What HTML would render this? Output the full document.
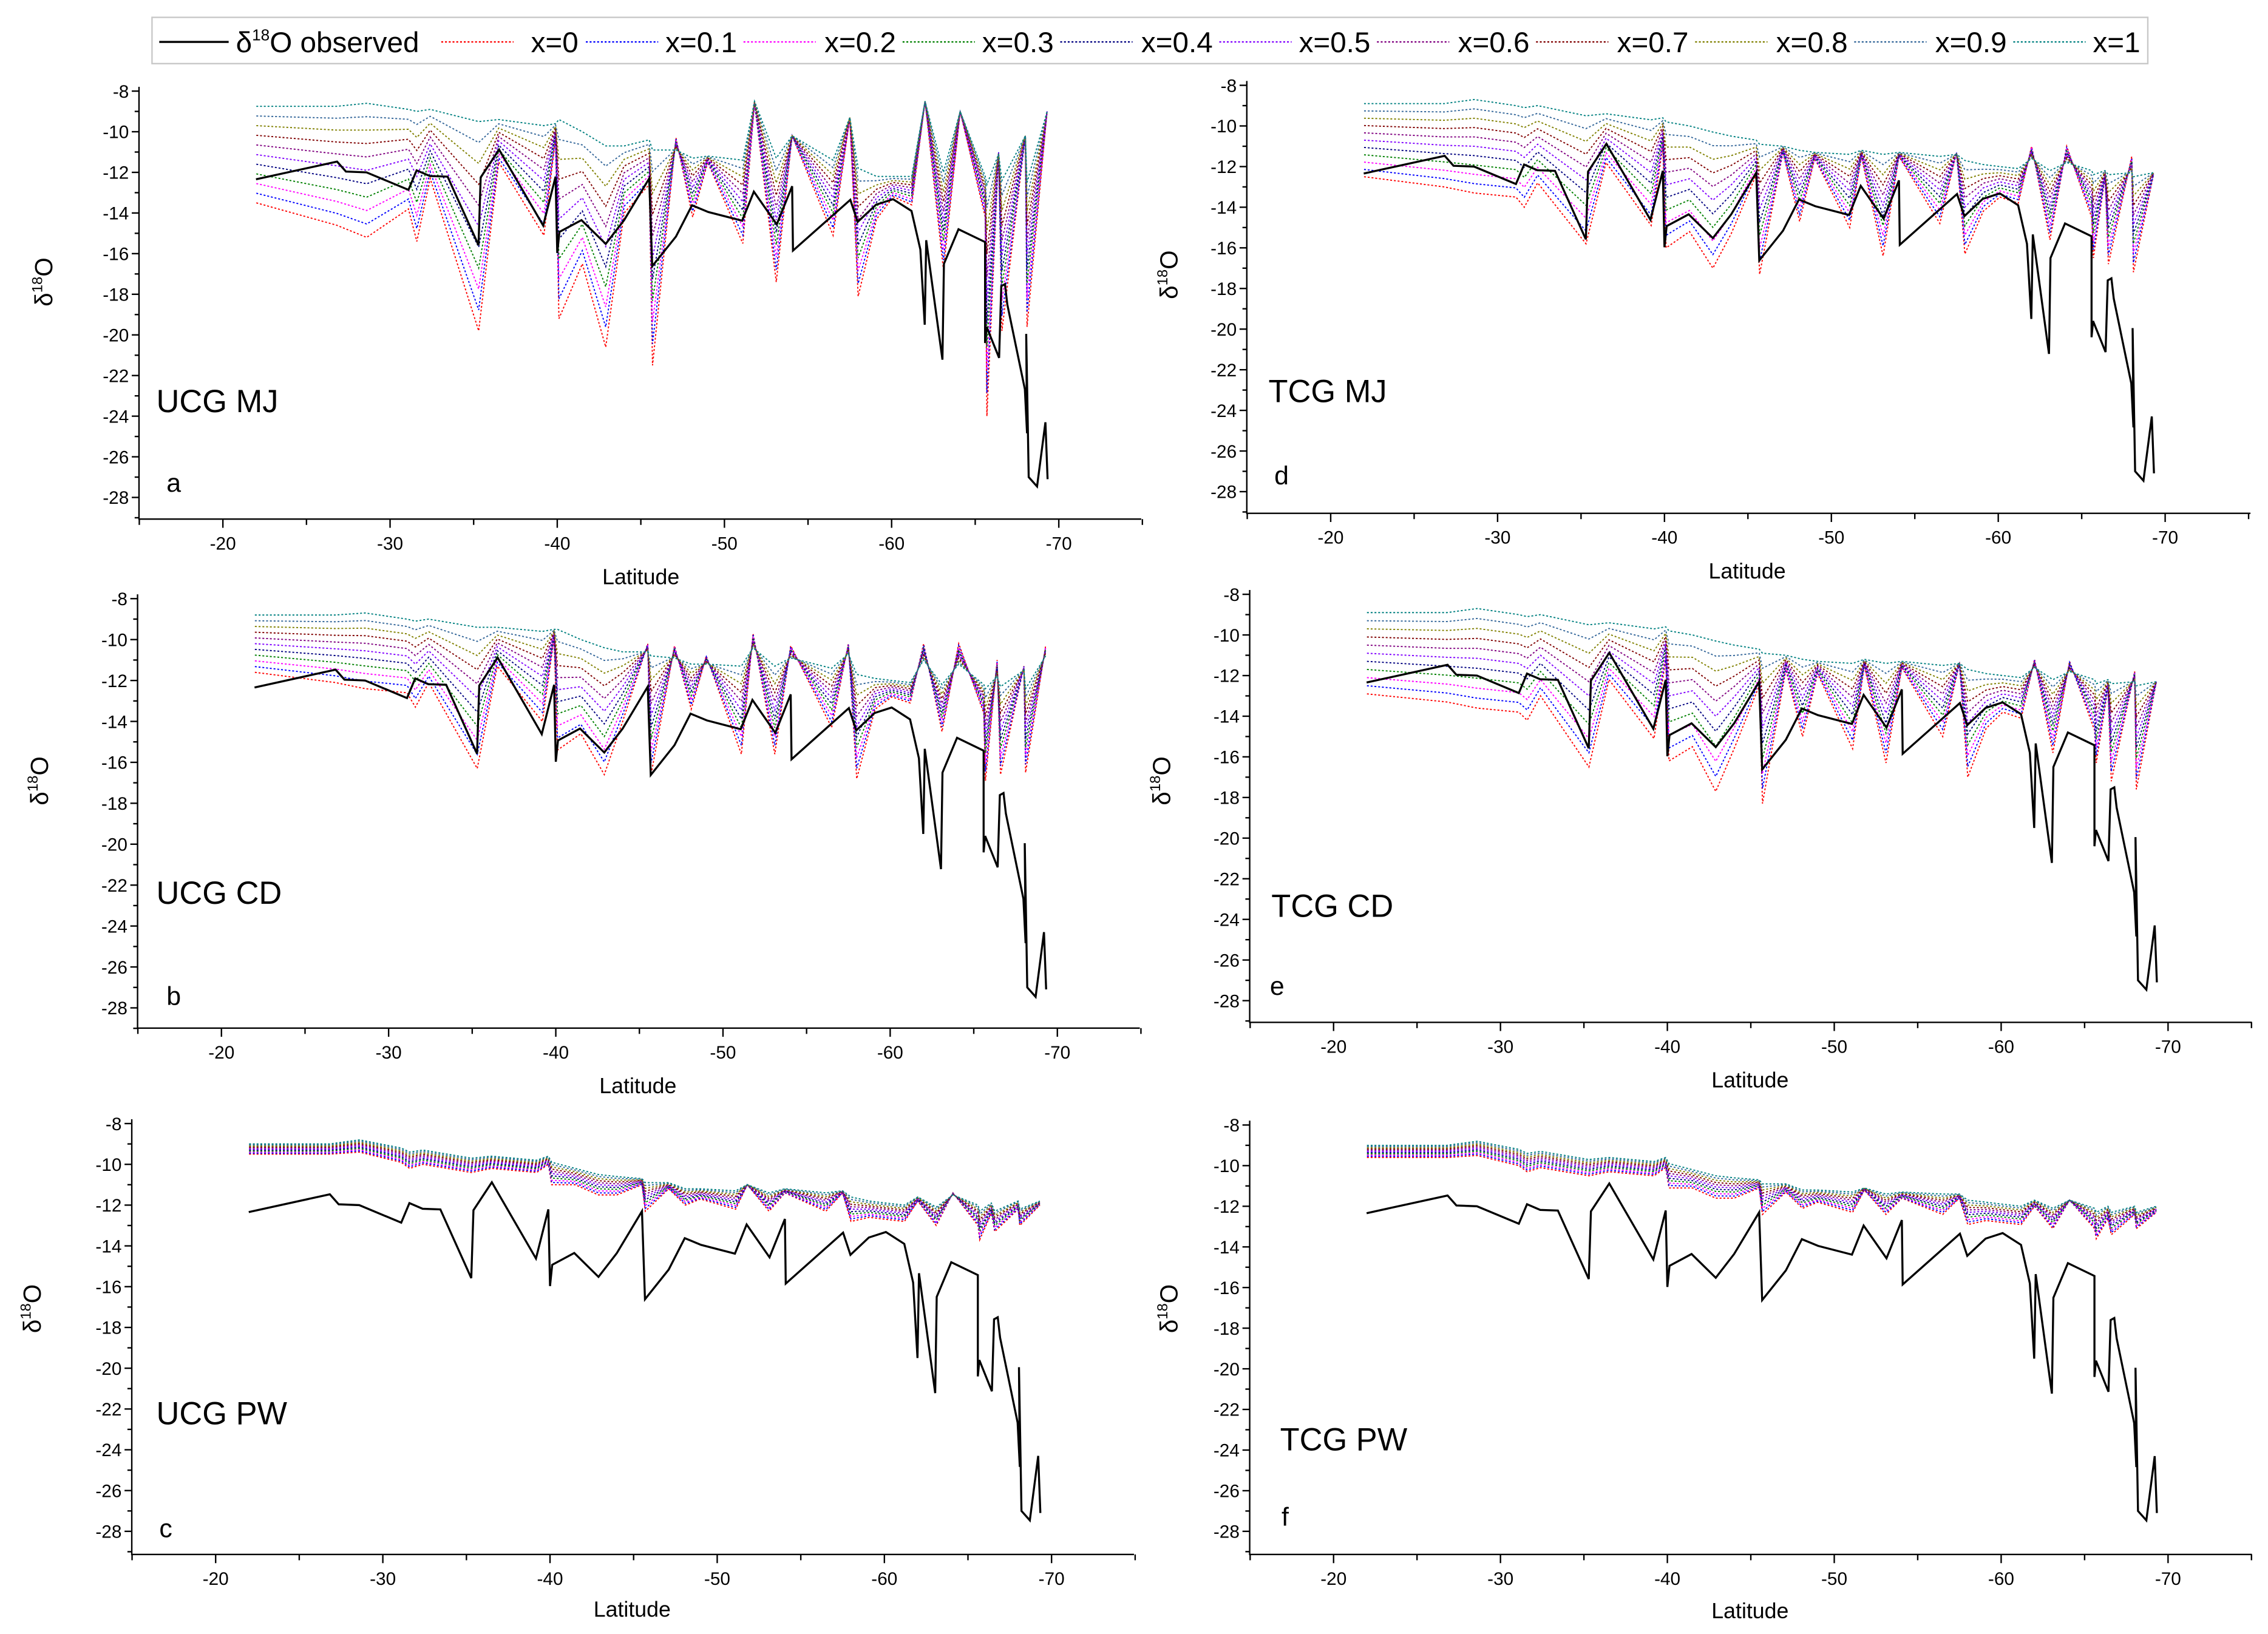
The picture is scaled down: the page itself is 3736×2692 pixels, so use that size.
<!DOCTYPE html>
<html><head><meta charset="utf-8"><style>
html,body{margin:0;padding:0;background:#fff}
svg{display:block;font-family:"Liberation Sans",Arial,sans-serif}
</style></head><body>
<svg id="chart" xmlns="http://www.w3.org/2000/svg" width="3736" height="2692" viewBox="0 0 1568 1130">
<rect x="0" y="0" width="1568" height="1130" fill="#fff"/>
<g id="legend"></g>
<g id="panels"></g>
</svg>
<script>
const NS="http://www.w3.org/2000/svg";
// ---- data ----
const obsLat=[-21.98,-26.83,-27.36,-28.59,-31.1,-31.59,-32.38,-33.44,-35.29,-35.42,-36.52,-39.16,-39.9,-40.0,-40.13,-41.45,-42.9,-44.0,-45.5,-45.68,-47.1,-48.06,-49.03,-51.06,-51.76,-53.13,-54.05,-54.1,-57.53,-57.97,-59.07,-60.09,-61.19,-61.72,-61.98,-62.07,-63.04,-63.13,-64.0,-65.59,-65.59,-65.68,-66.43,-66.56,-66.78,-66.92,-67.97,-68.1,-68.05,-68.2,-68.7,-69.2,-69.33];
const obsVal=[-12.34,-11.47,-11.96,-12.0,-12.86,-11.9,-12.18,-12.21,-15.58,-12.25,-10.88,-14.62,-12.21,-15.97,-14.93,-14.35,-15.52,-14.35,-12.3,-16.62,-15.16,-13.62,-13.95,-14.38,-12.95,-14.56,-12.68,-15.85,-13.35,-14.44,-13.59,-13.32,-13.9,-15.8,-19.5,-15.34,-21.22,-16.5,-14.8,-15.43,-20.4,-19.6,-21.13,-17.6,-17.5,-18.5,-22.67,-24.84,-19.95,-27.0,-27.46,-24.3,-27.1];
const modLat=[-22,-26.8,-28.6,-31.1,-31.6,-32.4,-35.3,-36.5,-39.2,-39.9,-40.1,-41.5,-42.9,-44,-45.5,-45.7,-47.1,-48.1,-49,-51.1,-51.8,-53.1,-54.05,-56.5,-57.5,-58,-59.1,-60.1,-61.2,-62,-63.1,-64.1,-65.6,-65.7,-66.4,-66.6,-68,-68.1,-69.3];
const xFractions=[0,0.1,0.2,0.3,0.4,0.5,0.6,0.7,0.8,0.9,1];
const seriesColors=["#ff0000","#0000ff","#ff00ff","#008000","#000080","#8000ff","#800080","#800000","#808000","#336699","#008080"];
const aLo=[-13.5,-14.6,-15.2,-13.8,-15.4,-12.3,-19.8,-11.5,-15.1,-10.3,-19.2,-16.5,-20.6,-14,-12.6,-21.5,-10.3,-14.2,-11.5,-15.5,-8.6,-17.4,-10.2,-15.1,-9.3,-18.1,-14.3,-13.2,-13.6,-8.5,-16.8,-9.0,-14.2,-24.0,-11.0,-19.8,-10.2,-19.6,-9.0];
const aHi=[-8.75,-8.75,-8.6,-8.9,-9.0,-8.9,-9.5,-9.4,-9.7,-9.6,-9.4,-10.0,-10.7,-10.7,-10.4,-10.9,-10.9,-11.3,-11.2,-11.4,-8.5,-11.3,-10.2,-11.4,-9.3,-11.8,-12.2,-12.2,-12.2,-8.5,-12.0,-9.0,-12.2,-12.6,-11.1,-12.4,-10.2,-12.5,-9.0];
const dLo=[-12.5,-13.0,-13.3,-13.5,-14.0,-12.8,-15.8,-11.8,-14.9,-11.0,-16.0,-15.2,-17.0,-15.3,-12.4,-17.3,-11.3,-14.7,-11.6,-15.0,-11.5,-16.4,-11.5,-14.8,-11.3,-16.3,-14.2,-13.5,-13.8,-11.0,-15.6,-11.0,-14.5,-16.5,-12.5,-16.8,-11.5,-17.2,-12.4];
const dHi=[-8.9,-8.9,-8.7,-9.0,-9.1,-9.0,-9.5,-9.4,-9.7,-9.6,-9.8,-10.0,-10.3,-10.5,-10.7,-10.9,-11.0,-11.2,-11.3,-11.4,-11.2,-11.4,-11.3,-11.5,-11.4,-11.7,-11.9,-12.0,-12.1,-11.6,-12.2,-11.8,-12.2,-12.4,-12.2,-12.4,-12.3,-12.5,-12.3];
const bLo=[-11.6,-12.1,-12.4,-12.6,-13.3,-12.1,-16.3,-11.3,-14.0,-9.9,-15.4,-14.6,-16.6,-14.0,-10.2,-16.6,-10.3,-13.4,-10.8,-15.6,-9.7,-15.6,-10.3,-14.3,-10.2,-16.8,-13.4,-12.8,-13.1,-10.2,-14.5,-10.2,-13.6,-16.9,-11.0,-16.6,-11.3,-16.5,-10.3];
const bHi=[-8.8,-8.8,-8.7,-9.0,-9.1,-9.0,-9.4,-9.4,-9.6,-9.5,-9.5,-10.0,-10.4,-10.6,-10.6,-10.8,-10.9,-11.2,-11.2,-11.3,-10.4,-11.3,-10.9,-11.4,-10.7,-11.7,-11.9,-12.0,-12.1,-11.0,-12.2,-11.2,-12.2,-12.4,-11.8,-12.3,-11.5,-12.4,-10.8];
const eLo=[-12.9,-13.3,-13.6,-13.8,-14.2,-13.0,-16.5,-12.2,-15.1,-11.2,-16.2,-15.5,-17.7,-15.6,-12.5,-18.3,-11.7,-15.0,-11.9,-15.6,-11.5,-16.3,-11.6,-15.0,-11.4,-17.0,-14.6,-13.8,-14.1,-11.2,-15.8,-11.3,-14.7,-16.3,-12.6,-17.2,-11.8,-17.6,-12.3];
const eHi=[-8.9,-8.9,-8.7,-9.0,-9.1,-9.0,-9.5,-9.4,-9.7,-9.6,-9.8,-10.0,-10.3,-10.5,-10.7,-10.9,-11.0,-11.2,-11.3,-11.4,-11.2,-11.4,-11.3,-11.5,-11.4,-11.7,-11.9,-12.0,-12.1,-11.6,-12.2,-11.8,-12.2,-12.4,-12.2,-12.4,-12.3,-12.5,-12.3];
const cLo=[-9.5,-9.5,-9.4,-9.9,-10.2,-10.0,-10.4,-10.2,-10.4,-10.0,-11.0,-11.0,-11.5,-11.5,-11.0,-12.3,-11.2,-12.0,-11.7,-12.2,-11.0,-12.3,-11.4,-12.3,-11.4,-12.8,-12.6,-12.7,-12.8,-11.8,-13.0,-11.4,-13.0,-13.7,-12.4,-13.3,-12.2,-13.0,-12.0];
const cHi=[-9.0,-9.0,-8.8,-9.2,-9.4,-9.3,-9.7,-9.6,-9.8,-9.6,-9.9,-10.2,-10.5,-10.6,-10.7,-10.9,-10.9,-11.2,-11.2,-11.3,-11.0,-11.4,-11.2,-11.4,-11.3,-11.6,-11.8,-11.9,-12.0,-11.6,-12.1,-11.5,-12.0,-12.3,-11.9,-12.3,-11.8,-12.2,-11.8];
const fLo=[-9.6,-9.6,-9.5,-10.0,-10.3,-10.1,-10.5,-10.3,-10.5,-10.1,-11.1,-11.1,-11.6,-11.6,-11.1,-12.4,-11.3,-12.1,-11.8,-12.3,-11.2,-12.4,-11.6,-12.4,-11.6,-12.9,-12.7,-12.8,-12.9,-12.0,-13.1,-11.7,-13.1,-13.6,-12.6,-13.4,-12.4,-13.1,-12.3];
const fHi=[-9.0,-9.0,-8.8,-9.2,-9.4,-9.3,-9.7,-9.6,-9.8,-9.6,-9.9,-10.2,-10.5,-10.6,-10.7,-10.9,-10.9,-11.2,-11.2,-11.3,-11.1,-11.4,-11.3,-11.4,-11.4,-11.7,-11.8,-11.9,-12.0,-11.7,-12.1,-11.7,-12.1,-12.3,-12.0,-12.3,-12.0,-12.3,-12.0];
const yTicks=[-8,-10,-12,-14,-16,-18,-20,-22,-24,-26,-28];
const xTicks=[-20,-30,-40,-50,-60,-70];

const panels=[
 {id:"a",name:"UCG MJ",lo:aLo,hi:aHi,x20:154,x70:732,y8:63,y28:344,left:96,right:789,bottom:359,lab:[108,285],let:[115,340],xl:[443,404],yt:[30,195]},
 {id:"d",name:"TCG MJ",lo:dLo,hi:dHi,x20:920,x70:1497,y8:59,y28:340,left:862,right:1556,bottom:355,lab:[877,278],let:[881,335],xl:[1208,400],yt:[808,190]},
 {id:"b",name:"UCG CD",lo:bLo,hi:bHi,x20:153,x70:731,y8:414,y28:697,left:95,right:788,bottom:711,lab:[108,625],let:[115,695],xl:[441,756],yt:[27,540]},
 {id:"e",name:"TCG CD",lo:eLo,hi:eHi,x20:922,x70:1499,y8:411,y28:692,left:864,right:1557,bottom:707,lab:[879,634],let:[878,688],xl:[1210,752],yt:[803,540]},
 {id:"c",name:"UCG PW",lo:cLo,hi:cHi,x20:149,x70:727,y8:777,y28:1059,left:91,right:784,bottom:1075,lab:[108,985],let:[110,1063],xl:[437,1118],yt:[22,905]},
 {id:"f",name:"TCG PW",lo:fLo,hi:fHi,x20:922,x70:1499,y8:778,y28:1059,left:864,right:1557,bottom:1075,lab:[885,1003],let:[886,1055],xl:[1210,1119],yt:[808,905]}
];
function el(tag,attrs,parent){const e=document.createElementNS(NS,tag);for(const k in attrs)e.setAttribute(k,attrs[k]);if(parent)parent.appendChild(e);return e;}
const root=document.getElementById("panels");
panels.forEach(p=>{
  const g=el("g",{},root);
  
  
  const xs=v=>p.x20+(v+20)*(p.x70-p.x20)/(-50);
  const ys=v=>p.y8+(v+8)*(p.y28-p.y8)/(-20);
  const top=p.y8-3;
  // model series
  xFractions.forEach((f,k)=>{
    let d="";
    modLat.forEach((la,i)=>{const v=p.lo[i]+f*(p.hi[i]-p.lo[i]);d+=(i?"L":"M")+xs(la).toFixed(2)+" "+ys(v).toFixed(2);});
    const s=el("path",{d:d,fill:"none",stroke:seriesColors[k],"stroke-width":"0.8","stroke-dasharray":"1.3 1.3"},g);
    
    
  });
  let d="";
  obsLat.forEach((la,i)=>{d+=(i?"L":"M")+xs(la).toFixed(2)+" "+ys(obsVal[i]).toFixed(2);});
  const o=el("path",{d:d,fill:"none",stroke:"#000","stroke-width":"1.4","stroke-linejoin":"miter"},g);
  
  
  // axes
  const ax=el("path",{d:`M${p.left} ${top}V${p.bottom}H${p.right}`,fill:"none",stroke:"#000","stroke-width":"1"},g);
  
  
  for(let v=-8;v>=-29;v--){
    const major=(v%2===0);
    el("line",{x1:p.left,x2:p.left-(major?5:3),y1:ys(v),y2:ys(v),stroke:"#000","stroke-width":"1"},g);
  }
  yTicks.forEach(v=>{
    const t=el("text",{x:p.left-7,y:ys(v)+4.5,"text-anchor":"end","font-size":"12.5",fill:"#000"},g);
    t.textContent=String(v);
    
    
  });
  for(let v=-15;v>=-75;v-=5){
    const major=(v%10===0);
    el("line",{x1:xs(v),x2:xs(v),y1:p.bottom,y2:p.bottom+(major?6:4),stroke:"#000","stroke-width":"1"},g);
  }
  xTicks.forEach(v=>{
    const t=el("text",{x:xs(v),y:p.bottom+21,"text-anchor":"middle","font-size":"12.5",fill:"#000"},g);
    t.textContent=String(v);
    
    
  });
  const xl=el("text",{x:p.xl[0],y:p.xl[1],"text-anchor":"middle","font-size":"15",fill:"#000"},g);
  xl.textContent="Latitude";
  
  
  const yt=el("text",{x:0,y:0,"text-anchor":"middle","font-size":"17",fill:"#000",transform:`translate(${p.yt[0]+6},${p.yt[1]}) rotate(-90)`},g);
  yt.innerHTML='δ<tspan font-size="10" dy="-7">18</tspan><tspan dy="7">O</tspan>';
  
  
  const lb=el("text",{x:p.lab[0],y:p.lab[1],"font-size":"22",fill:"#000"},g);
  lb.textContent=p.name;
  
  
  const lt=el("text",{x:p.let[0],y:p.let[1],"font-size":"18",fill:"#000"},g);
  lt.textContent=p.id;
  
  
});
// legend
const lg=document.getElementById("legend");
el("rect",{x:105,y:12,width:1380,height:32,fill:"#fff",stroke:"#c8c8c8","stroke-width":"1"},lg);
el("line",{x1:110,x2:158,y1:29,y2:29,stroke:"#000","stroke-width":"1.4"},lg);
const ot=el("text",{x:163,y:36,"font-size":"20",fill:"#000"},lg);
ot.innerHTML='δ<tspan font-size="11" dy="-8">18</tspan><tspan dy="8">O observed</tspan>';


const legendLabels=["x=0","x=0.1","x=0.2","x=0.3","x=0.4","x=0.5","x=0.6","x=0.7","x=0.8","x=0.9","x=1"];
const legendTextX=[367,460,570,679,789,898,1008,1118,1228,1338,1447];
const legendLineStart=[305,405,514,624,733,843,952,1062,1172,1282,1392];
legendLabels.forEach((s,k)=>{
  const ln=el("line",{x1:legendLineStart[k],x2:legendLineStart[k]+50,y1:29,y2:29,stroke:seriesColors[k],"stroke-width":"1","stroke-dasharray":"1.3 1.3"},lg);
  
  
  const t=el("text",{x:legendTextX[k],y:36,"font-size":"20",fill:"#000"},lg);
  t.textContent=s;
  
  
});
</script>
</body></html>
